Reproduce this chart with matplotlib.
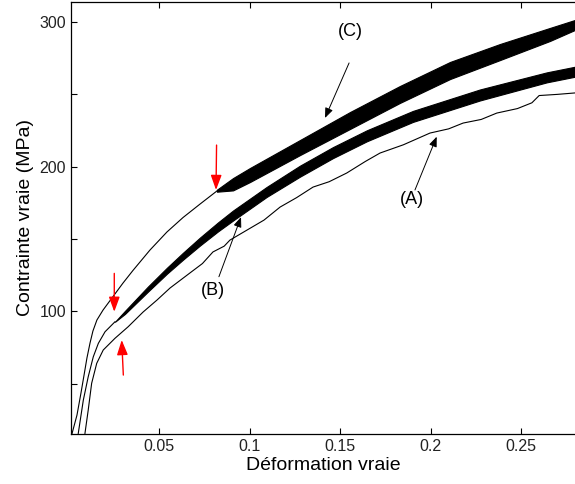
import matplotlib
matplotlib.use('Agg')
import matplotlib.pyplot as plt

# true strain / true stress (MPa)
# (A) thin jagged curve
strain_a = [0.0091, 0.0109, 0.0128, 0.0156, 0.0192, 0.0257, 0.0330, 0.0412, 0.0489,
            0.0561, 0.0671, 0.0740, 0.0798, 0.0860, 0.0892, 0.0986, 0.1080, 0.1169,
            0.1260, 0.1351, 0.1440, 0.1537, 0.1640, 0.1721, 0.1850, 0.1997, 0.2100,
            0.2180, 0.2280, 0.2366, 0.2480, 0.2560, 0.2600, 0.2700, 0.2798]
stress_a = [15.7, 31.8, 50.3, 64.1, 73.3, 81.4, 89.4, 99.5, 107.8,
            116.1, 126.5, 133.0, 141.0, 145.0, 149.2, 156.1, 163.0, 172.0,
            178.5, 185.8, 189.5, 195.5, 203.5, 209.3, 215.0, 223.1, 226.0,
            230.0, 232.5, 236.9, 240.0, 244.0, 249.0, 249.8, 250.8]

# (B) smooth start, then serrated band
strain_b = [0.0054, 0.0082, 0.0109, 0.0137, 0.0165, 0.0202, 0.0257]
stress_b = [15.7, 38.7, 54.8, 68.6, 77.9, 85.9, 92.8]
strain_b_band = [0.0257, 0.0312, 0.0439, 0.0544, 0.0633, 0.0727, 0.0826, 0.0909, 0.1095,
                 0.1279, 0.1461, 0.1648, 0.1903, 0.2273, 0.2642, 0.2798]
stress_b_top = [92.8, 100.3, 117.1, 130.1, 140.5, 151.0, 161.4, 169.6, 185.9,
                200.6, 213.4, 225.0, 238.4, 253.2, 265.0, 268.9]
stress_b_bot = [92.8, 98.2, 113.6, 126.0, 135.7, 145.5, 155.2, 162.7, 179.0,
                193.0, 205.8, 217.4, 230.8, 245.6, 258.1, 262.0]

# (C) smooth up to ~0.082, then strong serrations
strain_c = [0.0019, 0.0047, 0.0069, 0.0086, 0.0102, 0.0119, 0.0135, 0.0157, 0.0191,
            0.0246, 0.0301, 0.0356, 0.0450, 0.0544, 0.0633, 0.0727, 0.0820]
stress_c = [15.3, 28.4, 43.6, 56.0, 67.8, 78.1, 86.4, 94.0, 100.9,
            110.2, 119.5, 128.2, 142.3, 154.8, 164.8, 174.1, 183.1]
strain_c_band = [0.0820, 0.0909, 0.1003, 0.1279, 0.1555, 0.1831, 0.2108, 0.2384, 0.2660, 0.2798]
stress_c_top = [184.0, 192.0, 199.0, 218.3, 237.6, 255.6, 272.2, 284.6, 295.7, 301.2]
stress_c_bot = [182.6, 183.5, 189.3, 207.9, 225.9, 243.9, 260.4, 273.5, 286.7, 294.3]

x_ticks = [0.05, 0.1, 0.15, 0.2, 0.25]
x_ticklabels = ['0.05', '0.1', '0.15', '0.2', '0.25']
y_ticks = [50, 100, 150, 200, 250, 300]
y_ticklabels = ['', '100', '', '200', '', '300']

plt.rcParams['font.family'] = ['Liberation Sans', 'DejaVu Sans']

fig = plt.figure(figsize=(5.75, 4.84), dpi=100)
ax = fig.add_axes([0.1235, 0.1033, 0.8765, 0.8926])

lw = 0.8
ax.plot(strain_a, stress_a, color='black', lw=lw)
ax.plot(strain_b, stress_b, color='black', lw=lw)
ax.fill_between(strain_b_band, stress_b_bot, stress_b_top, color='black', lw=0.8)
ax.plot(strain_c, stress_c, color='black', lw=lw)
ax.fill_between(strain_c_band, stress_c_bot, stress_c_top, color='black', lw=0.8)

ax.set_xlim(0.0014, 0.2798)
ax.set_ylim(15.3, 313.6)
ax.set_xticks(x_ticks)
ax.set_xticklabels(x_ticklabels)
ax.set_yticks(y_ticks)
ax.set_yticklabels(y_ticklabels)
ax.tick_params(direction='in', top=True, right=False, labelsize=11.5, length=4, width=0.8,
               labelcolor='#222222')
ax.spines['right'].set_visible(False)
for s in ['left', 'bottom', 'top']:
    ax.spines[s].set_linewidth(0.9)

ax.set_xlabel('Déformation vraie', fontsize=14, labelpad=2)
ax.set_ylabel('Contrainte vraie (MPa)', fontsize=14, labelpad=4)

# curve labels with thin black arrows
black_arrow = dict(arrowstyle='-|>,head_length=0.5,head_width=0.2', color='black',
                   lw=0.7, shrinkA=0, shrinkB=0, mutation_scale=12)
ax.text(0.1555, 292.9, '(C)', fontsize=13, ha='center', va='center')
ax.annotate('', xy=(0.1417, 233.5), xytext=(0.155, 271.5), arrowprops=black_arrow)
ax.text(0.1896, 176.9, '(A)', fontsize=13, ha='center', va='center')
ax.annotate('', xy=(0.2034, 220.6), xytext=(0.1914, 183.8), arrowprops=black_arrow)
ax.text(0.080, 114.7, '(B)', fontsize=13, ha='center', va='center')
ax.annotate('', xy=(0.0953, 165.1), xytext=(0.0831, 123.9), arrowprops=black_arrow)

# red arrows: onset of serrations
red_arrow = dict(arrowstyle='-|>,head_length=0.6,head_width=0.22', color='red',
                 lw=1.0, shrinkA=0, shrinkB=0, mutation_scale=15)
ax.annotate('', xy=(0.0815, 183.8), xytext=(0.0818, 214.8), arrowprops=red_arrow)
ax.annotate('', xy=(0.0253, 99.7), xytext=(0.0253, 126.2), arrowprops=red_arrow)
ax.annotate('', xy=(0.0294, 80.2), xytext=(0.0303, 56.0), arrowprops=red_arrow)

fig.savefig('out.png', dpi=100)
